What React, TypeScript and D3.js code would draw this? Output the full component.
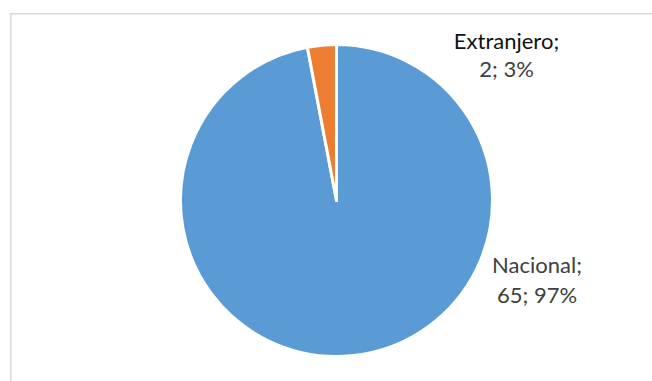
import React from "react";
import * as d3 from "d3";

const categories = ["Nacional", "Extranjero"];
const values = [65, 2];
const percentLabels = ["97%", "3%"];
const colors = ["#5B9BD5", "#ED7D31"];

export default function App() {
  const W = 652;
  const H = 381;
  const cx = 336.5;
  const cy = 200.5;
  const r = 156;

  const data = categories.map((c, i) => ({ name: c, value: values[i], pct: percentLabels[i], color: colors[i] }));
  const pie = d3.pie<any>().sort(null).value((d: any) => d.value).startAngle(0).endAngle(2 * Math.PI);
  const arcs = pie(data);
  const arc = d3.arc<any>().innerRadius(0).outerRadius(r);

  const labelPos: Record<string, { x: number; y1: number; y2: number; c1: string; c2: string }> = {
    Nacional: { x: 537, y1: 273, y2: 303, c1: "#404040", c2: "#404040" },
    Extranjero: { x: 506.5, y1: 48.5, y2: 77, c1: "#111111", c2: "#404040" },
  };

  return (
    <svg
      width={W}
      height={H}
      style={{ position: "fixed", left: 0, top: 0, display: "block", background: "#fff" }}
      fontFamily="Lato, 'Liberation Sans', sans-serif"
    >
      <rect x={0} y={0} width={W} height={H} fill="#fff" />
      <rect x={10.75} y={13.75} width={800} height={500} fill="#fff" stroke="#d9d9d9" strokeWidth={1.5} />
      <g transform={`translate(${cx},${cy})`}>
        {arcs.map((a, i) => (
          <path key={i} d={arc(a) as string} fill={a.data.color} stroke="#fff" strokeWidth={3} strokeLinejoin="round" />
        ))}
      </g>
      {arcs.map((a, i) => {
        const p = labelPos[a.data.name];
        return (
          <g key={"l" + i} fontSize={22} textAnchor="middle">
            <text x={p.x} y={p.y1} fill={p.c1}>{a.data.name};</text>
            <text x={p.x} y={p.y2} fill={p.c2}>{a.data.value}; {a.data.pct}</text>
          </g>
        );
      })}
    </svg>
  );
}
